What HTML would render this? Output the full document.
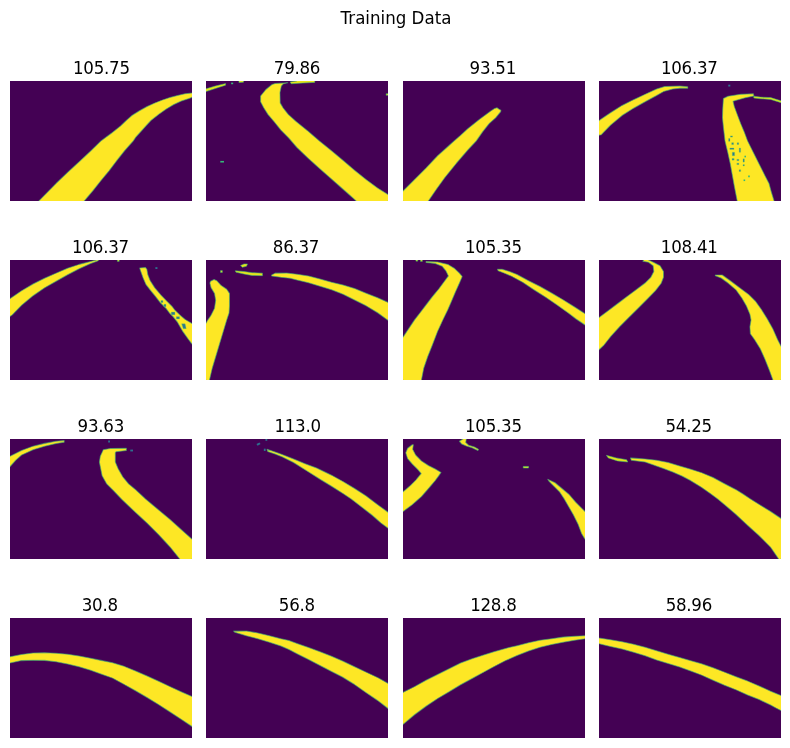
<!DOCTYPE html>
<html><head><meta charset="utf-8"><title>Training Data</title>
<style>
html,body{margin:0;padding:0;background:#fff;}
body{width:790px;height:748px;position:relative;overflow:hidden;font-family:"DejaVu Sans","Liberation Sans",sans-serif;color:#000;}
.st{transform:scaleY(1.085);transform-origin:50% 0;position:absolute;left:1px;top:8px;width:790px;text-align:center;font-size:16.67px;line-height:20px;white-space:nowrap;}
.t{transform:scaleY(1.085);transform-origin:50% 0;letter-spacing:-0.25px;position:absolute;width:182px;text-align:center;font-size:16.67px;line-height:20px;white-space:nowrap;}
svg.p{position:absolute;width:182px;height:120px;background:#440154;display:block;overflow:hidden;}
svg.p polygon, svg.p rect{fill:#fde725;stroke:#3aaf7a;stroke-width:4.5;stroke-opacity:.6;stroke-linejoin:round;}
svg.p .d{fill:#440154;stroke:none;}
svg.p .g{fill:#35b779;stroke:none;}
svg.p .b{fill:#2e6f8e;stroke:none;}
svg.p .k{fill:#2a788e;stroke:#7ad151;stroke-width:3;stroke-opacity:.5;}
svg.p .s{fill:#e8e419;stroke:#35b779;stroke-width:4;stroke-opacity:.6;}
</style></head><body>
<div class="st">Training Data</div>

<div class="t" style="left:10.4px;top:58px">105.75</div>
<svg class="p" style="left:10px;top:81px" viewBox="0 0 790 521" preserveAspectRatio="none">
<polygon points="125,521 200,445 250,397 300,351 350,304 395,260 440,227 480,195 505,171 529,150 562,129 595,111 628,96 661,83 694,72 727,63 760,55 790,52 815,52 815,71 790,71 777,76 744,87 711,102 678,122 645,145 612,171 590,195 545,245 535,260 498,302 463,346 430,390 395,432 360,476 322,521 322,546 125,546"/>
</svg>
<div class="t" style="left:206px;top:58px">79.86</div>
<svg class="p" style="left:206px;top:81px" viewBox="0 0 790 521" preserveAspectRatio="none">
<polygon points="355,8 300,11 287,15 260,37 237,65 237,90 250,115 269,145 296,177 325,213 358,246 395,289 445,337 495,382 545,426 595,470 645,514 652,521 652,546 790,546 790,521 815,521 815,493 790,493 745,465 695,428 645,388 595,345 545,303 492,260 443,218 390,175 357,145 335,117 322,95 321,50 327,22 336,12"/>
<polygon class="s" points="0,34 40,22 85,11 85,18 40,33 0,46 -25,46 -25,34"/>
<polygon class="g" points="109,7 118,7 118,14 109,14"/>
<polygon class="s" points="143,0 143,-25 163,-25 163,0 163,5 143,7"/>
<polygon class="s" points="365,4 395,0 395,-25 472,-25 472,0 472,6 420,9 370,12"/>
<polygon class="s" points="782,55 790,55 815,55 815,62 790,62 782,62"/>
<polygon class="g" points="62,347 78,347 78,354 62,354"/>
</svg>
<div class="t" style="left:401.8px;top:58px">93.51</div>
<svg class="p" style="left:403px;top:81px" viewBox="0 0 790 521" preserveAspectRatio="none">
<polygon points="0,478 50,428 100,378 150,325 200,280 222,260 250,236 280,208 330,168 380,131 398,119 408,116 416,122 425,127 424,133 402,160 374,185 346,220 318,260 281,300 231,358 181,420 145,470 110,521 110,546 0,546 0,521 -25,521 -25,478"/>
</svg>
<div class="t" style="left:598.3px;top:58px">106.37</div>
<svg class="p" style="left:599px;top:81px" viewBox="0 0 790 521" preserveAspectRatio="none">
<polygon points="0,172 50,138 100,106 150,81 200,58 250,35 285,24 350,22 385,25 385,31 350,31 320,35 280,46 250,63 200,90 150,118 100,150 50,192 10,233 0,235 -25,235 -25,172"/>
<polygon points="540,76 560,66 615,58 670,55 672,65 635,73 600,82 582,88 587,110 600,145 615,185 630,220 645,260 670,310 695,360 720,410 738,445 748,482 760,521 760,546 600,546 600,521 588,460 579,410 570,360 559,310 547,260 540,200 536,160 537,125"/>
<polygon class="s" points="672,66 700,70 745,72 790,86 815,86 815,94 790,94 745,80 700,77 672,74"/>
<polygon class="b" points="561,16 570,16 570,24 561,24"/>
<polygon class="k" points="562.5,250 568.5,250 568.5,262 562.5,262"/>
<polygon class="k" points="570.5,238.5 579.5,238.5 579.5,243.5 570.5,243.5"/>
<polygon class="k" points="576,268 584,268 584,276 576,276"/>
<polygon class="k" points="568,291 586,291 586,297 568,297"/>
<polygon class="k" points="599.5,268.5 606.5,268.5 606.5,275.5 599.5,275.5"/>
<polygon class="k" points="608.6,291 614.6,291 614.6,309 608.6,309"/>
<polygon class="k" points="578.6,309.5 588.6,309.5 588.6,324.5 578.6,324.5"/>
<polygon class="k" points="577.5,336.5 586.5,336.5 586.5,343.5 577.5,343.5"/>
<polygon class="k" points="598.5,340 607.5,340 607.5,346 598.5,346"/>
<polygon class="k" points="598.5,357 607.5,357 607.5,363 598.5,363"/>
<polygon class="k" points="625,338 631,338 631,352 625,352"/>
<polygon class="k" points="625,363 631,363 631,369 625,369"/>
<polygon class="k" points="608.1,385.5 615.1,385.5 615.1,392.5 608.1,392.5"/>
<polygon class="g" points="647.5,410.5 654.5,410.5 654.5,417.5 647.5,417.5"/>
<polygon class="g" points="631.2,324.5 638.2,324.5 638.2,331.5 631.2,331.5"/>
<polygon class="g" points="627.5,427.5 634.5,427.5 634.5,434.5 627.5,434.5"/>
</svg>
<div class="t" style="left:9.5px;top:237px">106.37</div>
<svg class="p" style="left:10px;top:260px" viewBox="0 0 790 521" preserveAspectRatio="none">
<polygon points="0,168 50,134 100,104 150,79 200,57 250,36 300,19 350,6 375,0 375,-25 385,-25 385,0 380,4 350,15 300,38 250,64 200,92 150,121 100,155 50,197 10,238 0,245 -25,245 -25,168"/>
<polygon class="s" points="466,0 466,-25 474,-25 474,0 474,6 466,6"/>
<polygon points="563,35 566,45 578,78 590,106 611,133 632,159 652,185 678,211 693,231 708,246 727,270 750,310 775,345 790,365 815,365 815,276 790,276 760,258 739,240 716,218 703,201 680,178 654,151 628,120 608,89 598,63 594,40 588,33"/>
<polygon class="k" points="745,277 760,277 765,298 752,298"/>
<polygon class="k" points="655,176 664,176 664,185 655,185"/>
<polygon class="k" points="668,192 677,192 677,203 668,203"/>
<polygon class="k" points="700,226 716,226 716,238 700,238"/>
<polygon class="k" points="722,246 736,246 736,256 722,256"/>
<polygon class="b" points="631,31 640,31 640,39 631,39"/>
</svg>
<div class="t" style="left:205px;top:237px">86.37</div>
<svg class="p" style="left:206px;top:260px" viewBox="0 0 790 521" preserveAspectRatio="none">
<polygon points="35,85 20,92 17,100 22,120 37,145 42,175 37,210 22,240 7,262 0,275 -25,275 -25,521 0,521 0,546 15,546 15,521 27,470 42,420 57,370 75,310 90,260 100,230 102,200 102,145 90,127 65,110 47,90"/>
<polygon points="285,65 300,57 350,56 395,62 445,69 495,82 545,97 595,109 645,124 695,144 745,164 790,184 815,184 815,262 790,262 745,229 695,199 645,174 595,149 545,129 495,114 445,99 395,87 365,79 325,75 285,69"/>
<polygon class="s" points="127,47 165,50 200,55 245,57 245,68 200,67 170,62 130,53"/>
<polygon class="s" points="150,24 165,17 180,17 176,27 158,32"/>
<polygon class="s" points="63,46 71,46 71,54 63,54"/>
</svg>
<div class="t" style="left:402.4px;top:237px">105.35</div>
<svg class="p" style="left:403px;top:260px" viewBox="0 0 790 521" preserveAspectRatio="none">
<polygon points="0,335 50,260 75,228 100,195 127,160 156,125 184,87 197,69 186,47 170,27 140,15 100,11 100,7 150,9 196,20 224,37 245,57 257,72 245,100 227,140 210,180 195,215 173,260 150,310 127,370 107,420 90,470 80,521 80,546 0,546 0,521 -25,521 -25,335"/>
<polygon points="410,40 430,40 462,50 495,63 545,90 595,115 645,143 695,173 745,204 790,233 815,233 815,282 790,282 750,255 720,232 670,196 620,162 570,130 520,97 470,70 440,57 413,47"/>
<polygon class="s" points="56,0 56,-25 64,-25 64,0 64,5 56,5"/>
<polygon class="s" points="76,0 76,-25 84,-25 84,0 84,6 76,6"/>
</svg>
<div class="t" style="left:598.2px;top:237px">108.41</div>
<svg class="p" style="left:599px;top:260px" viewBox="0 0 790 521" preserveAspectRatio="none">
<polygon points="0,250 40,220 80,190 120,160 160,130 200,100 225,75 238,50 235,25 215,10 190,5 195,0 195,-25 215,-25 215,0 240,12 265,25 280,50 280,75 270,101 245,133 210,169 170,209 130,249 90,289 50,333 20,371 0,390 -25,390 -25,250"/>
<polygon points="505,65 535,65 570,90 610,120 650,150 680,180 705,215 730,255 755,300 775,345 790,375 815,375 815,521 790,521 790,546 755,546 755,521 740,480 720,430 700,385 675,345 657,320 655,290 660,260 655,235 640,200 620,165 595,130 560,100 530,78 505,68"/>
</svg>
<div class="t" style="left:9.8px;top:416px">93.63</div>
<svg class="p" style="left:10px;top:439px" viewBox="0 0 790 521" preserveAspectRatio="none">
<polygon points="0,75 50,50 100,31 150,19 200,10 235,7 235,14 200,20 150,31 100,47 50,70 25,92 0,120 -25,120 -25,75"/>
<polygon points="405,47 435,41 505,40 505,50 460,55 457,60 457,100 470,130 490,165 515,195 545,220 588,260 645,308 695,350 745,395 790,435 815,435 815,521 790,521 790,546 737,546 737,521 695,469 645,415 595,365 545,319 485,262 450,225 420,195 400,160 388,100 392,75 400,58"/>
<polygon class="b" points="426,7 434,7 434,15 426,15"/>
<polygon class="b" points="522,46 534,46 534,54 522,54"/>
</svg>
<div class="t" style="left:206.6px;top:416px">113.0</div>
<svg class="p" style="left:206px;top:439px" viewBox="0 0 790 521" preserveAspectRatio="none">
<polygon points="265,45 300,56 330,67 380,87 430,107 480,126 545,157 595,185 645,215 695,247 712,260 745,285 790,318 815,318 815,387 790,387 760,365 720,330 675,295 630,260 595,237 545,205 495,175 445,143 380,102 330,77 300,65 268,54"/>
<polygon class="b" points="219,22 232,15 237,22 224,29"/>
<polygon class="b" points="258,0 258,-25 266,-25 266,0 266,8 258,8"/>
<polygon class="b" points="251,42 259,42 259,52 251,52"/>
</svg>
<div class="t" style="left:402.4px;top:416px">105.35</div>
<svg class="p" style="left:403px;top:439px" viewBox="0 0 790 521" preserveAspectRatio="none">
<polygon points="40,25 20,40 12,60 20,85 40,108 65,133 79,150 56,178 33,201 10,221 0,229 -25,229 -25,315 0,315 40,285 80,250 115,210 140,180 155,160 165,145 140,130 110,115 80,95 55,70 42,45 45,25"/>
<polygon points="260,0 245,10 255,22 275,30 300,38 325,50 328,45 310,35 285,27 272,15 275,0 275,-25 260,-25"/>
<polygon class="s" points="522,119 545,119 545,126 522,126"/>
<polygon points="628,175 660,190 690,215 720,240 750,275 780,305 790,315 815,315 815,435 790,435 775,410 760,370 740,330 720,295 700,260 680,230 655,205 635,185"/>
</svg>
<div class="t" style="left:597.7px;top:416px">54.25</div>
<svg class="p" style="left:599px;top:439px" viewBox="0 0 790 521" preserveAspectRatio="none">
<polygon class="s" points="32,71 75,82 120,90 125,100 80,95 40,82"/>
<polygon points="137,82 200,87 250,92 300,102 350,117 395,130 445,146 495,167 545,194 595,220 625,239 657,260 695,284 745,315 790,345 815,345 815,521 790,521 790,546 780,546 780,521 745,470 695,420 645,375 595,328 545,285 515,260 485,238 445,210 395,179 360,161 320,143 280,128 240,114 200,100 140,92"/>
</svg>
<div class="t" style="left:8.8px;top:595px">30.8</div>
<svg class="p" style="left:10px;top:618px" viewBox="0 0 790 521" preserveAspectRatio="none">
<polygon points="0,168 50,158 100,152 150,151 200,153 250,157 300,165 350,175 395,184 445,194 495,210 545,230 595,252 645,275 695,298 745,321 790,341 815,341 815,471 790,471 745,441 695,408 645,376 595,345 545,316 495,288 445,261 395,243 350,227 300,212 250,200 200,190 150,184 100,183 50,185 0,195 -25,195 -25,168"/>
</svg>
<div class="t" style="left:205.85px;top:595px">56.8</div>
<svg class="p" style="left:206px;top:618px" viewBox="0 0 790 521" preserveAspectRatio="none">
<polygon points="120,57 175,56 225,65 275,77 325,90 360,98 395,111 445,128 495,147 545,166 595,188 645,212 695,235 748,260 790,284 815,284 815,393 790,393 745,358 695,324 645,289 592,256 545,232 495,206 445,180 395,155 360,137 325,122 275,105 225,90 175,77 125,62"/>
</svg>
<div class="t" style="left:402.4px;top:595px">128.8</div>
<svg class="p" style="left:403px;top:618px" viewBox="0 0 790 521" preserveAspectRatio="none">
<polygon points="0,323 50,298 100,270 150,245 200,220 250,195 300,177 350,161 395,147 445,132 495,120 545,107 595,97 645,90 695,83 745,79 790,77 815,77 815,90 790,90 745,97 695,105 645,115 595,127 545,143 495,163 445,185 395,211 350,235 300,263 250,290 200,320 150,350 100,383 50,420 0,462 -25,462 -25,323"/>
</svg>
<div class="t" style="left:597.85px;top:595px">58.96</div>
<svg class="p" style="left:599px;top:618px" viewBox="0 0 790 521" preserveAspectRatio="none">
<polygon points="0,87 50,94 100,103 150,114 200,127 250,142 300,157 350,171 395,185 445,199 495,216 545,235 595,255 645,274 695,295 745,318 790,337 815,337 815,402 790,402 765,389 745,378 695,354 645,334 595,312 545,292 495,270 445,248 395,229 350,213 300,198 250,182 200,164 150,149 100,135 50,124 0,112 -25,112 -25,87"/>
</svg>
</body></html>
